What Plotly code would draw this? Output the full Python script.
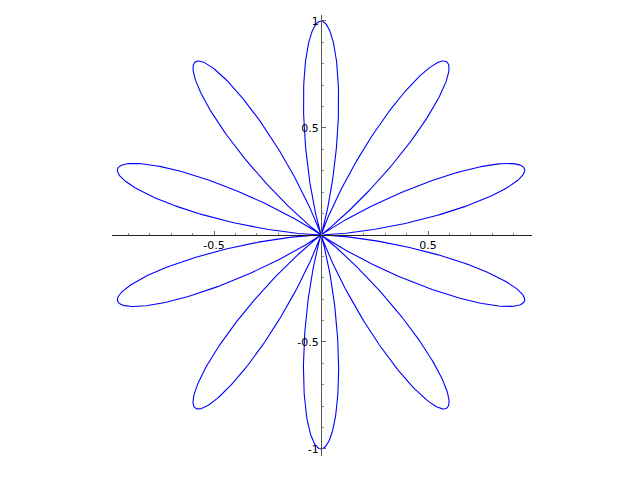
import numpy as np
import plotly.graph_objects as go

# Rose curve r = sin(5*theta)^2 (function plot)
petal_k = 5
theta = np.linspace(0, 2 * np.pi, 2001)
r = np.sin(petal_k * theta) ** 2
xs = r * np.cos(theta)
ys = r * np.sin(theta)

x_range = [-0.977, 0.986]
y_range = [-1.033, 1.028]
x_tickvals = [-0.5, 0.5]
x_ticktext = ["-0.5", "0.5"]
y_tickvals = [-1, -0.5, 0.5, 1]
y_ticktext = ["-1", "-0.5", "0.5", "1"]

fig = go.Figure()
fig.add_trace(go.Scatter(x=xs, y=ys, mode="lines",
                         line=dict(color="#0000ff", width=1.1), hoverinfo="skip"))

yfrac = (0 - y_range[0]) / (y_range[1] - y_range[0])
xfrac = (0 - x_range[0]) / (x_range[1] - x_range[0])

axis_font = dict(family="DejaVu Sans", size=11, color="black")
fig.update_layout(
    width=640, height=480,
    margin=dict(l=104, r=116, t=7, b=32),
    paper_bgcolor="white", plot_bgcolor="white",
    showlegend=False,
    xaxis=dict(range=x_range, anchor="free", position=yfrac, showgrid=False,
               zeroline=False, showline=True, linecolor="#222", linewidth=1,
               tickvals=x_tickvals, ticktext=x_ticktext, ticks="inside",
               ticklen=4, tickcolor="#666", tickfont=axis_font,
               minor=dict(dtick=0.1, tick0=0, ticks="inside", ticklen=2, tickcolor="#888"),
               fixedrange=True),
    yaxis=dict(range=y_range, anchor="free", position=xfrac, showgrid=False,
               zeroline=False, showline=True, linecolor="#555", linewidth=1,
               tickvals=y_tickvals, ticktext=y_ticktext, ticks="inside",
               ticklen=4, tickcolor="#666", tickfont=axis_font,
               minor=dict(dtick=0.1, tick0=0, ticks="inside", ticklen=2, tickcolor="#888"),
               fixedrange=True),
)
fig.write_html("out.html")
